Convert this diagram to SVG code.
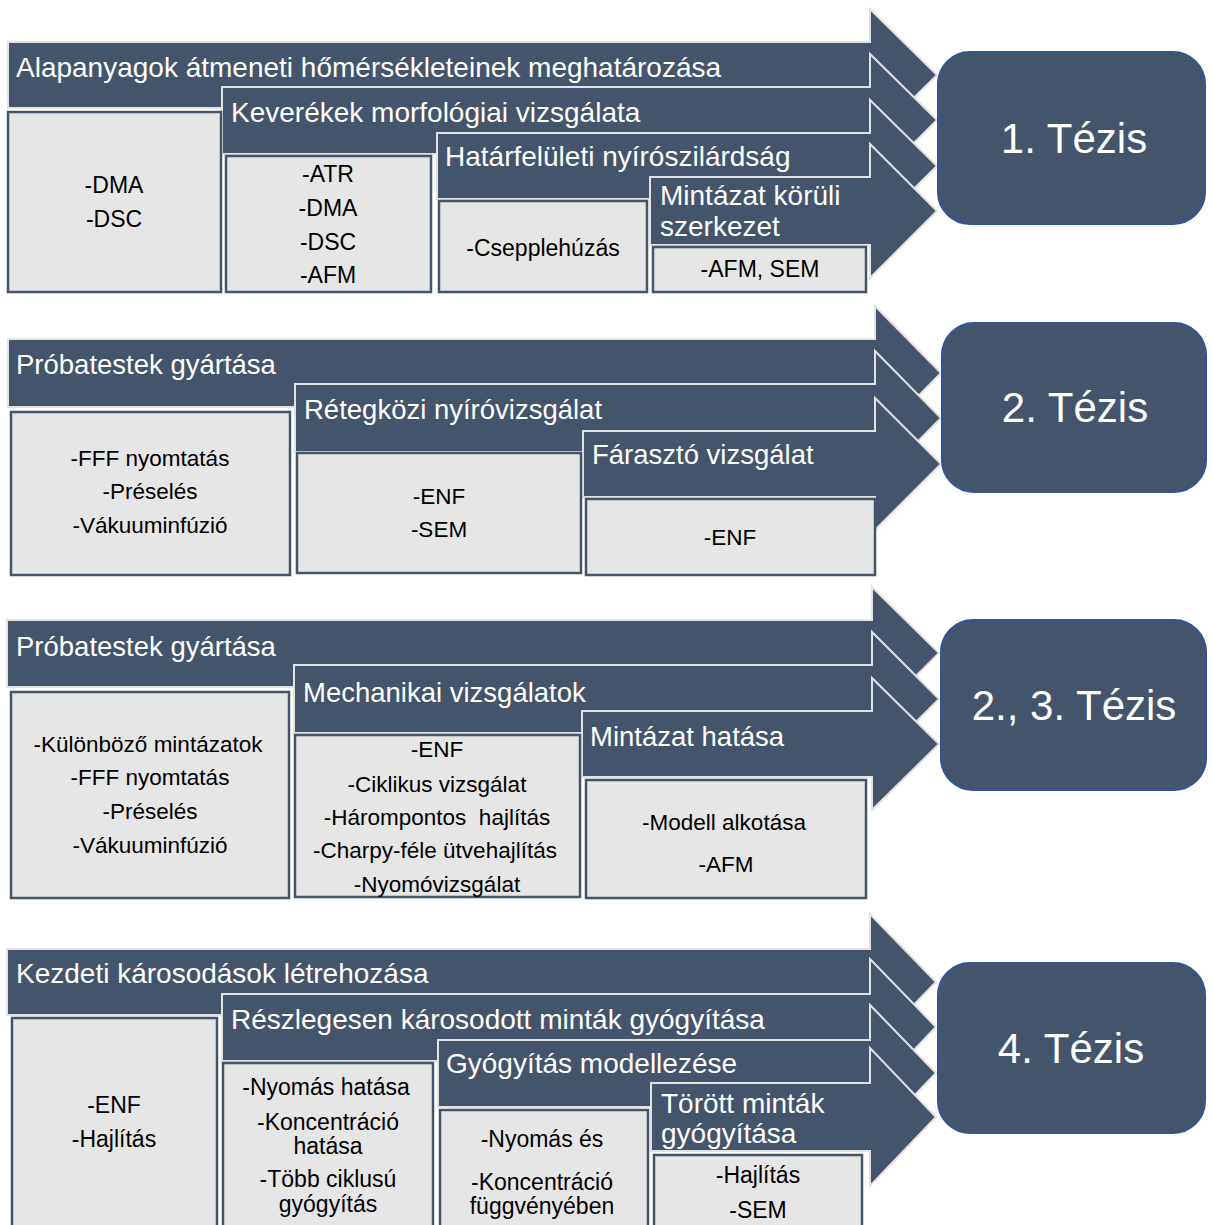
<svg xmlns="http://www.w3.org/2000/svg" width="1213" height="1225" viewBox="0 0 1213 1225">
<style>
.arrow{fill:#44546A;stroke:#E2E2E2;stroke-width:2;stroke-linejoin:miter}
.box{fill:#E7E6E6;stroke:#44546A;stroke-width:2.5}
.tez{fill:#44546A;stroke:#2F5597;stroke-width:2}
.t{font-family:"Liberation Sans",Arial,sans-serif;font-size:28px;fill:#FFFFFF}
.t2{font-family:"Liberation Sans",Arial,sans-serif;font-size:27.5px;fill:#FFFFFF}
.b{font-family:"Liberation Sans",Arial,sans-serif;font-size:23px;fill:#000000;text-anchor:middle}
.b2{font-family:"Liberation Sans",Arial,sans-serif;font-size:22.5px;fill:#000000;text-anchor:middle}
.tz{font-family:"Liberation Sans",Arial,sans-serif;font-size:42px;fill:#FFFFFF;text-anchor:middle}
</style>
<rect width="1213" height="1225" fill="#FFFFFF"/>

<!-- Section 1 -->
<g id="s1-a1"><path class="arrow" d="M8,42 L870,42 L870,9 L937,75 L870,141 L870,108 L8,108 Z"/><text class="t" x="16" y="77">Alapanyagok átmeneti hőmérsékleteinek meghatározása</text></g>
<g id="s1-a2"><path class="arrow" d="M222,87 L870,87 L870,54 L937,120 L870,187 L870,154 L222,154 Z"/><text class="t" x="231" y="122">Keverékek morfológiai vizsgálata</text></g>
<g id="s1-a3"><path class="arrow" d="M437,133 L870,133 L870,100 L937,166 L870,232 L870,199 L437,199 Z"/><text class="t" x="445" y="166">Határfelületi nyírószilárdság</text></g>
<g id="s1-a4"><path class="arrow" d="M650,177 L870,177 L870,144 L937,211 L870,278 L870,245 L650,245 Z"/><text class="t" x="660" y="205">Mintázat körüli</text><text class="t" x="660" y="236">szerkezet</text></g>
<g id="s1-b1"><rect class="box" x="8" y="112" width="213" height="180"/><text class="b" x="114" y="193">-DMA</text><text class="b" x="114" y="227">-DSC</text></g>
<g id="s1-b2"><rect class="box" x="226" y="156" width="205" height="136"/><text class="b" x="328" y="182">-ATR</text><text class="b" x="328" y="216">-DMA</text><text class="b" x="328" y="250">-DSC</text><text class="b" x="328" y="283">-AFM</text></g>
<g id="s1-b3"><rect class="box" x="439" y="201" width="208" height="91"/><text class="b" x="543" y="256">-Csepplehúzás</text></g>
<g id="s1-b4"><rect class="box" x="653" y="247" width="213" height="45"/><text class="b" x="760" y="277">-AFM, SEM</text></g>
<g id="s1-tezis"><rect class="tez" x="938" y="52" width="267" height="172" rx="32"/><text class="tz" x="1074" y="153">1. Tézis</text></g>

<!-- Section 2 -->
<g id="s2-a1"><path class="arrow" d="M8,339 L875,339 L875,306 L941,373 L875,440 L875,407 L8,407 Z"/><text class="t2" x="16" y="374">Próbatestek gyártása</text></g>
<g id="s2-a2"><path class="arrow" d="M295,384 L875,384 L875,351 L941,418 L875,485 L875,452 L295,452 Z"/><text class="t2" x="304" y="419">Rétegközi nyíróvizsgálat</text></g>
<g id="s2-a3"><path class="arrow" d="M583,431 L875,431 L875,398 L941,464 L875,530 L875,497 L583,497 Z"/><text class="t2" x="592" y="464">Fárasztó vizsgálat</text></g>
<g id="s2-b1"><rect class="box" x="11" y="412" width="279" height="163"/><text class="b2" x="150" y="466">-FFF nyomtatás</text><text class="b2" x="150" y="499">-Préselés</text><text class="b2" x="150" y="533">-Vákuuminfúzió</text></g>
<g id="s2-b2"><rect class="box" x="297" y="453" width="284" height="120"/><text class="b2" x="439" y="504">-ENF</text><text class="b2" x="439" y="537">-SEM</text></g>
<g id="s2-b3"><rect class="box" x="586" y="499" width="289" height="76"/><text class="b2" x="730" y="545">-ENF</text></g>
<g id="s2-tezis"><rect class="tez" x="942" y="323" width="264" height="169" rx="32"/><text class="tz" x="1075" y="422">2. Tézis</text></g>

<!-- Section 3 -->
<g id="s3-a1"><path class="arrow" d="M7,620 L872,620 L872,587 L939,653 L872,720 L872,687 L7,687 Z"/><text class="t2" x="16" y="656">Próbatestek gyártása</text></g>
<g id="s3-a2"><path class="arrow" d="M294,665 L872,665 L872,632 L939,699 L872,766 L872,733 L294,733 Z"/><text class="t2" x="303" y="702">Mechanikai vizsgálatok</text></g>
<g id="s3-a3"><path class="arrow" d="M582,711 L872,711 L872,678 L939,744 L872,810 L872,777 L582,777 Z"/><text class="t2" x="590" y="746">Mintázat hatása</text></g>
<g id="s3-b1"><rect class="box" x="11" y="692" width="278" height="206"/><text class="b2" x="148" y="752">-Különböző mintázatok</text><text class="b2" x="150" y="785">-FFF nyomtatás</text><text class="b2" x="150" y="819">-Préselés</text><text class="b2" x="150" y="853">-Vákuuminfúzió</text></g>
<g id="s3-b2"><rect class="box" x="295" y="735" width="285" height="162"/><text class="b2" x="437" y="757">-ENF</text><text class="b2" x="437" y="792">-Ciklikus vizsgálat</text><text class="b2" x="437" y="825" xml:space="preserve">-Hárompontos  hajlítás</text><text class="b2" x="435" y="858">-Charpy-féle ütvehajlítás</text><text class="b2" x="437" y="892">-Nyomóvizsgálat</text></g>
<g id="s3-b3"><rect class="box" x="586" y="780" width="280" height="118"/><text class="b2" x="724" y="830">-Modell alkotása</text><text class="b2" x="726" y="872">-AFM</text></g>
<g id="s3-tezis"><rect class="tez" x="941" y="620" width="265" height="170" rx="32"/><text class="tz" x="1074" y="720">2., 3. Tézis</text></g>

<!-- Section 4 -->
<g id="s4-a1"><path class="arrow" d="M7,949 L870,949 L870,914 L936,982 L870,1050 L870,1015 L7,1015 Z"/><text class="t" x="16" y="983">Kezdeti károsodások létrehozása</text></g>
<g id="s4-a2"><path class="arrow" d="M222,994 L870,994 L870,959 L936,1027 L870,1096 L870,1061 L222,1061 Z"/><text class="t" x="231" y="1029">Részlegesen károsodott minták gyógyítása</text></g>
<g id="s4-a3"><path class="arrow" d="M438,1040 L870,1040 L870,1005 L936,1073 L870,1142 L870,1107 L438,1107 Z"/><text class="t" x="446" y="1073">Gyógyítás modellezése</text></g>
<g id="s4-a4"><path class="arrow" d="M651,1083 L870,1083 L870,1048 L936,1117 L870,1186 L870,1151 L651,1151 Z"/><text class="t" x="661" y="1113">Törött minták</text><text class="t" x="661" y="1143">gyógyítása</text></g>
<g id="s4-b1"><rect class="box" x="12" y="1018" width="205" height="222"/><text class="b" x="114" y="1113">-ENF</text><text class="b" x="114" y="1147">-Hajlítás</text></g>
<g id="s4-b2"><rect class="box" x="223" y="1063" width="210" height="177"/><text class="b" x="326" y="1095">-Nyomás hatása</text><text class="b" x="328" y="1130">-Koncentráció</text><text class="b" x="328" y="1154">hatása</text><text class="b" x="328" y="1187">-Több ciklusú</text><text class="b" x="328" y="1212">gyógyítás</text></g>
<g id="s4-b3"><rect class="box" x="440" y="1110" width="208" height="130"/><text class="b" x="542" y="1147">-Nyomás és</text><text class="b" x="542" y="1190">-Koncentráció</text><text class="b" x="542" y="1214">függvényében</text></g>
<g id="s4-b4"><rect class="box" x="654" y="1155" width="208" height="85"/><text class="b" x="758" y="1183">-Hajlítás</text><text class="b" x="758" y="1218">-SEM</text></g>
<g id="s4-tezis"><rect class="tez" x="938" y="963" width="267" height="170" rx="32"/><text class="tz" x="1071" y="1063">4. Tézis</text></g>

<g id="connectors"></g>
</svg>
